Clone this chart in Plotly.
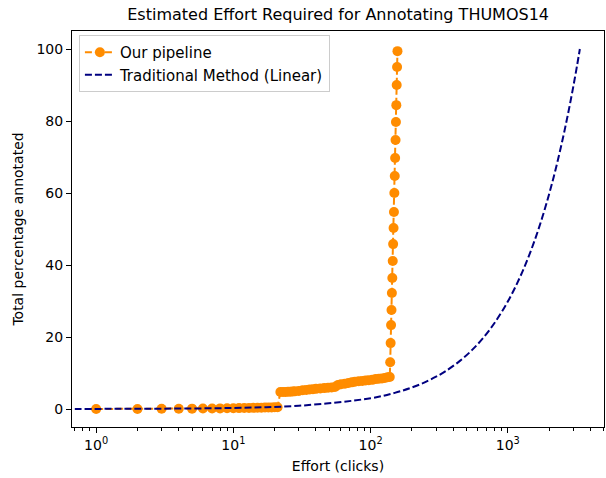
import plotly.graph_objects as go

# Our pipeline: cumulative clicks vs. percentage of THUMOS14 annotated
pipe_effort = [1, 2, 3, 4, 5, 6, 7, 8, 9, 10, 11, 12, 13, 14, 15, 16, 17, 18, 19, 20, 21,
               22, 23, 24, 25, 26, 27, 28, 30, 32, 34, 36, 38, 40, 43, 46, 49, 52, 55,
               58, 61, 65, 69, 73, 77, 82, 87, 92, 97, 103, 109, 115, 121, 127, 133, 138,
               139, 140, 141, 142, 143, 144, 145, 146, 147, 148, 149, 150, 151, 152,
               153, 154, 155, 156, 157]
pipe_pct = [0.0, 0.02, 0.05, 0.07, 0.1, 0.12, 0.15, 0.17, 0.2, 0.22, 0.25, 0.27, 0.3,
            0.32, 0.35, 0.37, 0.4, 0.42, 0.45, 0.47, 0.5,
            4.7, 4.75, 4.75, 4.8, 4.8, 4.85, 4.9, 5.0, 5.2, 5.3, 5.4, 5.5, 5.6, 5.7,
            5.8, 5.9, 6.0, 6.1, 6.7, 6.9, 7.0, 7.2, 7.4, 7.6, 7.7, 7.8, 7.9, 8.0, 8.1,
            8.3, 8.4, 8.5, 8.6, 8.8, 8.9,
            13.0, 18.3, 23.3, 27.5, 32.2, 36.4, 41.1, 45.8, 50.3, 54.7, 60.0, 64.7,
            69.7, 74.7, 79.7, 84.4, 90.0, 95.0, 99.4]

# Traditional (linear) annotation: one click per item
trad_effort = [0.3, 1, 3, 10, 30, 100, 150, 200, 250, 300, 350, 450, 550, 650, 800,
               1000, 1200, 1400, 1600, 1800, 2000, 2200, 2400, 2600, 2800, 3000,
               3200, 3350]
trad_pct = [0.0, 0.03, 0.09, 0.3, 0.9, 2.99, 4.48, 5.97, 7.46, 8.96, 10.45, 13.43,
            16.42, 19.40, 23.88, 29.85, 35.82, 41.79, 47.76, 53.73, 59.70, 65.67,
            71.64, 77.61, 83.58, 89.55, 95.52, 100.0]

x_tick_vals = [1, 10, 100, 1000]
x_tick_text = ["10<sup>0</sup>", "10<sup>1</sup>", "10<sup>2</sup>", "10<sup>3</sup>"]
y_tick_vals = [0, 20, 40, 60, 80, 100]

FONT = "DejaVu Sans"
ORANGE = "#FF8C00"
NAVY = "#000080"

fig = go.Figure()
fig.add_trace(go.Scatter(
    x=pipe_effort, y=pipe_pct, mode="lines+markers", name="Our pipeline",
    line=dict(color=ORANGE, width=2, dash="7px,3px"),
    marker=dict(color=ORANGE, size=10, line=dict(width=0)),
))
fig.add_trace(go.Scatter(
    x=trad_effort, y=trad_pct, mode="lines", name="Traditional Method (Linear)",
    line=dict(color=NAVY, width=2, dash="7px,3px", shape="spline"),
))

minor_vals = [m * 10 ** d for d in range(-1, 4) for m in range(2, 10)]

axis_common = dict(
    showgrid=False, zeroline=False, showline=True, linecolor="black", linewidth=1,
    mirror=True, ticks="outside", ticklen=5, tickwidth=1, tickcolor="black",
    tickfont=dict(family=FONT, size=14, color="black"),
)

fig.update_xaxes(
    type="log", range=[-0.176, 3.701],
    tickvals=x_tick_vals, ticktext=x_tick_text,
    minor=dict(tickvals=minor_vals, ticks="outside", ticklen=2.5, tickwidth=1,
               tickcolor="black", showgrid=False),
    title=dict(text="Effort (clicks)", font=dict(family=FONT, size=14, color="black"),
               standoff=9),
    **axis_common,
)
fig.update_yaxes(
    range=[-5, 105], tickvals=y_tick_vals,
    title=dict(text="Total percentage annotated",
               font=dict(family=FONT, size=14, color="black"), standoff=9),
    **axis_common,
)

fig.update_layout(
    width=606, height=478,
    margin=dict(l=72, r=2, t=31, b=51),
    paper_bgcolor="white", plot_bgcolor="white",
    title=dict(text="Estimated Effort Required for Annotating THUMOS14",
               x=0.558, xanchor="center", y=0.969, yanchor="middle",
               font=dict(family=FONT, size=16, color="black")),
    legend=dict(x=0.013, y=0.99, xanchor="left", yanchor="top",
                bgcolor="rgba(255,255,255,0.8)", bordercolor="#cccccc", borderwidth=1,
                font=dict(family=FONT, size=15, color="black"),
                tracegroupgap=0, itemwidth=30),
    showlegend=True,
)

fig.write_html("out.html")
